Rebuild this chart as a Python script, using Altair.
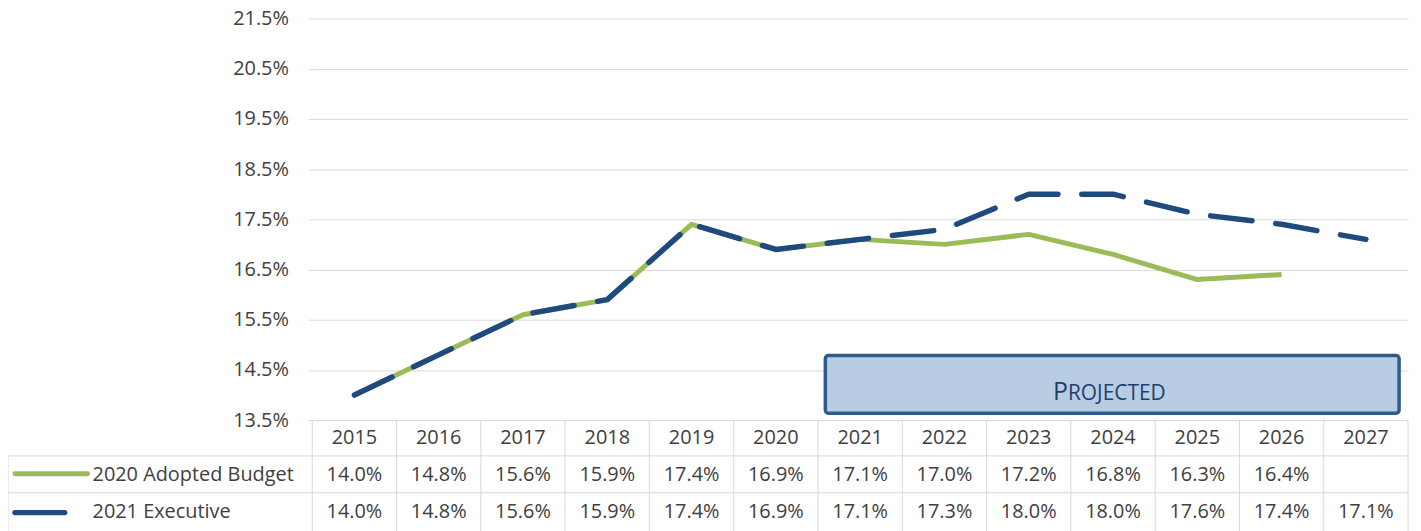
import altair as alt
import pandas as pd

# ---------------- data ----------------
YEARS = [2015, 2016, 2017, 2018, 2019, 2020, 2021, 2022, 2023, 2024, 2025, 2026, 2027]
ADOPTED = [14.0, 14.8, 15.6, 15.9, 17.4, 16.9, 17.1, 17.0, 17.2, 16.8, 16.3, 16.4, None]
EXECUTIVE = [14.0, 14.8, 15.6, 15.9, 17.4, 16.9, 17.1, 17.3, 18.0, 18.0, 17.6, 17.4, 17.1]
SERIES = ["2020 Adopted Budget", "2021 Executive"]
Y_TICKS = [13.5, 14.5, 15.5, 16.5, 17.5, 18.5, 19.5, 20.5, 21.5]
PROJECTED_LABEL = ["PROJECTED"]

# ---------------- style ----------------
FONT = "Open Sans"
FS = 20
GREEN = "#9BBB59"
NAVY = "#1F4A7D"
GRID = "#D9D9D9"
TEXT = "#404040"
W = 1102
H = 404

rows = []
for yr, a, e in zip(YEARS, ADOPTED, EXECUTIVE):
    if a is not None:
        rows.append({"year": yr, "series": SERIES[0], "value": a})
    rows.append({"year": yr, "series": SERIES[1], "value": e})
df = pd.DataFrame(rows)
adopted_df = df[df.series == SERIES[0]]
exec_df = df[df.series == SERIES[1]]
years_df = pd.DataFrame({"year": YEARS})
bounds_df = pd.DataFrame({"b": [y - 0.5 for y in YEARS] + [YEARS[-1] + 0.5]})
one_df = pd.DataFrame({"k": [0]})
proj_df = pd.DataFrame({"label": PROJECTED_LABEL})

xs = alt.Scale(domain=[YEARS[0] - 0.5, YEARS[-1] + 0.5], nice=False, zero=False)
ys = alt.Scale(domain=[Y_TICKS[0], Y_TICKS[-1]], nice=False, zero=False)
X = alt.X("year:Q", scale=xs, axis=None)

y_axis = alt.Axis(
    values=Y_TICKS,
    labelExpr="format(datum.value, '.1f') + '%'",
    grid=True, gridColor=GRID, gridWidth=1,
    domain=False, ticks=True, tickSize=4, tickColor=GRID,
    labelFont=FONT, labelFontSize=FS, labelColor=TEXT, labelPadding=20,
    title=None,
)

green_line = alt.Chart(adopted_df).mark_line(
    color=GREEN, strokeWidth=5, strokeJoin="round"
).encode(x=X, y=alt.Y("value:Q", scale=ys, axis=y_axis))

blue_line = alt.Chart(exec_df).mark_line(
    color=NAVY, strokeWidth=5.5, strokeDash=[42, 24], strokeCap="round", strokeJoin="round"
).encode(x=X, y=alt.Y("value:Q", scale=ys))

# table grid
vlines = alt.Chart(bounds_df).mark_rule(color=GRID, strokeWidth=1).encode(
    x=alt.X("b:Q", scale=xs, axis=None), y=alt.value(H), y2=alt.value(H + 120)
)
left_border = alt.Chart(one_df).mark_rule(color=GRID, strokeWidth=1).encode(
    x=alt.value(-306), y=alt.value(440), y2=alt.value(H + 120)
)
hline1 = alt.Chart(one_df).mark_rule(color=GRID, strokeWidth=1).encode(
    x=alt.value(-306), x2=alt.value(W), y=alt.value(440)
)
hline2 = alt.Chart(one_df).mark_rule(color=GRID, strokeWidth=1).encode(
    x=alt.value(-306), x2=alt.value(W), y=alt.value(477)
)

txt = dict(font=FONT, fontSize=FS, color=TEXT, baseline="middle")
header = alt.Chart(years_df).mark_text(**txt).encode(
    x=X, y=alt.value(422), text=alt.Text("year:Q", format="d")
)
row1 = alt.Chart(adopted_df).transform_calculate(
    label="format(datum.value, '.1f') + '%'"
).mark_text(**txt).encode(x=X, y=alt.value(459), text="label:N")
row2 = alt.Chart(exec_df).transform_calculate(
    label="format(datum.value, '.1f') + '%'"
).mark_text(**txt).encode(x=X, y=alt.value(496), text="label:N")

# legend column
leg_sym1 = alt.Chart(one_df).mark_rule(color=GREEN, strokeWidth=5, strokeCap="round").encode(
    x=alt.value(-299), x2=alt.value(-226), y=alt.value(458)
)
leg_sym2 = alt.Chart(one_df).mark_rule(color=NAVY, strokeWidth=5.5, strokeCap="round").encode(
    x=alt.value(-299), x2=alt.value(-249), y=alt.value(497)
)
leg_txt1 = alt.Chart(one_df).mark_text(align="left", **txt).encode(
    x=alt.value(-221), y=alt.value(459), text=alt.value(SERIES[0])
)
leg_txt2 = alt.Chart(one_df).mark_text(align="left", **txt).encode(
    x=alt.value(-221), y=alt.value(496), text=alt.value(SERIES[1])
)

# projected box
box = alt.Chart(proj_df).mark_rect(
    fill="#B8CCE4", stroke="#2F5A8C", strokeWidth=3.5, cornerRadius=3
).encode(x=alt.value(516), x2=alt.value(1093), y=alt.value(339), y2=alt.value(397))
proj_p = alt.Chart(proj_df).transform_calculate(
    t="substring(datum.label, 0, 1)"
).mark_text(font=FONT, fontSize=25, color="#1F3F6E", align="right", baseline="alphabetic").encode(
    x=alt.value(760), y=alt.value(384), text="t:N"
)
proj_rest = alt.Chart(proj_df).transform_calculate(
    t="substring(datum.label, 1)"
).mark_text(font=FONT, fontSize=21, color="#1F3F6E", align="left", baseline="alphabetic").encode(
    x=alt.value(760), y=alt.value(384), text="t:N"
)

chart = alt.layer(
    vlines, left_border, hline1, hline2,
    green_line, blue_line,
    header, row1, row2,
    leg_sym1, leg_sym2, leg_txt1, leg_txt2,
    box, proj_p, proj_rest,
).properties(
    width=W, height=H,
    autosize=alt.AutoSizeParams(type="none"),
    padding={"left": 306, "top": 9, "right": 5, "bottom": 110},
).configure_view(stroke=None)

chart.save("out.html", embed_options={"renderer": "svg", "actions": False})
